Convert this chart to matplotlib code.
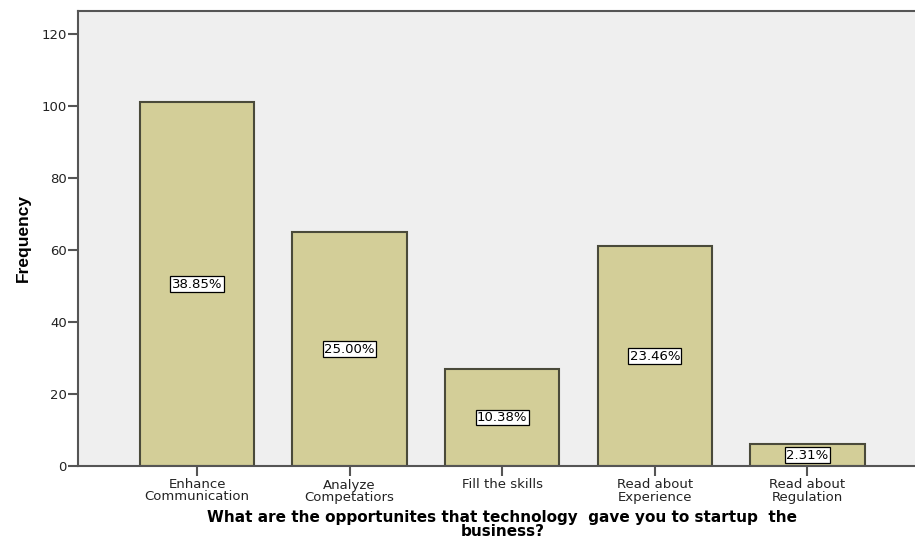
import matplotlib
matplotlib.use("Agg")
import matplotlib.pyplot as plt
import numpy as np

# Odpowiedzi i liczebności
kategorie = ["Enhance\nCommunication", "Analyze\nCompetatiors", "Fill the skills",
             "Read about\nExperience", "Read about\nRegulation"]
liczebnosc = [101, 65, 27, 61, 6]
procenty = ["38.85%", "25.00%", "10.38%", "23.46%", "2.31%"]
yticks = [0, 20, 40, 60, 80, 100, 120]

kolor_slupka = "#D3CE98"
kolor_tla = "#EFEFEF"
kolor_osi = "#555555"

fig = plt.figure(figsize=(9.15, 5.46), dpi=100)
W, H = 915, 546
ax = fig.add_axes([78 / W, 80 / H, 848.5 / W, 455 / H])
ax.set_facecolor(kolor_tla)

x = np.arange(len(kategorie))
ax.bar(x, liczebnosc, width=0.75, color=kolor_slupka, edgecolor="#4a4a3a", linewidth=1.5, zorder=2)

# etykiety procentowe w połowie wysokości słupka
for xi, h, p in zip(x, liczebnosc, procenty):
    ax.text(xi, h / 2, p, ha="center", va="center", fontsize=9.5, family="DejaVu Sans",
            bbox=dict(boxstyle="square,pad=0.1", facecolor="white", edgecolor="black", linewidth=0.9),
            zorder=3)

ax.set_xlim(-0.78, 4.78)
ax.set_ylim(0, 126.4)
ax.set_yticks(yticks)
ax.set_xticks(x)
ax.set_xticklabels(kategorie, fontsize=9.5, family="DejaVu Sans", linespacing=0.9, color="#222222")
ax.tick_params(axis="y", labelsize=9.5, length=7, width=1.5, color=kolor_osi, labelcolor="#222222", pad=1)
ax.tick_params(axis="x", length=7, width=1.5, color=kolor_osi, pad=2)
for lab in ax.get_yticklabels():
    lab.set_family("DejaVu Sans")

for s in ax.spines.values():
    s.set_color(kolor_osi)
    s.set_linewidth(1.5)

ax.set_ylabel("Frequency", fontsize=12.5, fontweight="bold",
              family=["Liberation Sans Narrow", "Liberation Sans"], labelpad=8)
ax.set_xlabel("What are the opportunites that technology  gave you to startup  the\nbusiness?",
              fontsize=11, fontweight="bold", family="DejaVu Sans", linespacing=0.85, labelpad=5)

fig.savefig("out.png", dpi=100)
